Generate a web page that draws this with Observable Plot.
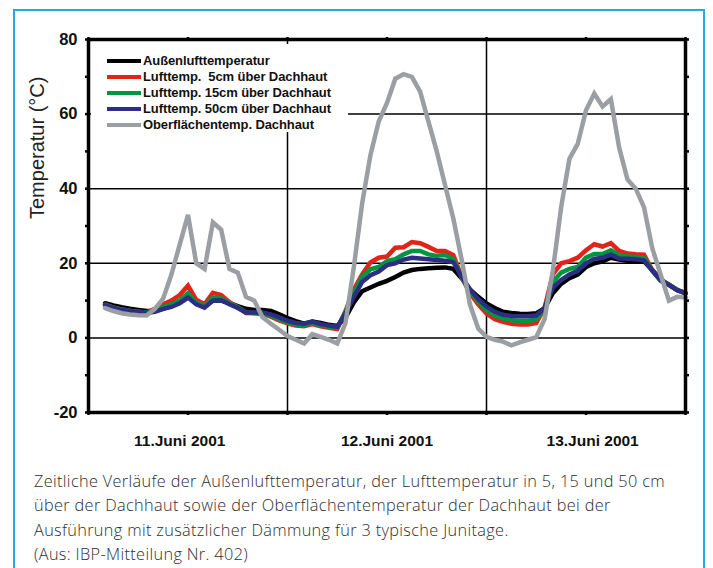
<!DOCTYPE html>
<html><head><meta charset="utf-8">
<script src="https://cdn.jsdelivr.net/npm/d3@7"></script>
<script src="https://cdn.jsdelivr.net/npm/@observablehq/plot@0.6"></script>
<style>
html,body{margin:0;padding:0;background:#fff;}
#wrap{position:relative;width:713px;height:568px;overflow:hidden;background:#fff;font-family:"Liberation Sans",Arial,sans-serif;}
#border{position:absolute;left:13px;top:9px;width:692px;height:640px;border:2px solid #29a9e1;box-sizing:border-box;}
#chart{position:absolute;left:0;top:0;}
#legend{position:absolute;left:91px;top:44px;width:257px;height:88px;background:#fff;padding-top:9px;box-sizing:border-box;}
.row{height:16px;line-height:16px;font-size:13px;font-weight:bold;color:#111;white-space:pre;letter-spacing:-0.1px;}
.sw{display:inline-block;width:34px;height:4px;vertical-align:middle;margin-left:16px;margin-right:2px;position:relative;top:-1px;}
#caption{position:absolute;left:34px;top:469px;width:675px;font-family:"Open Sans",Lato,sans-serif;font-weight:300;font-size:16.3px;letter-spacing:0.35px;line-height:24.3px;color:#2e2e2e;white-space:nowrap;}
</style></head>
<body>
<div id="wrap">
  <div id="border"></div>
  <div id="chart"></div>
  <div id="legend"></div>
  <div id="caption">Zeitliche Verläufe der Außenlufttemperatur, der Lufttemperatur in 5, 15 und 50 cm<br>über der Dachhaut sowie der Oberflächentemperatur der Dachhaut bei der<br>Ausführung mit zusätzlicher Dämmung für 3 typische Junitage.<br>(Aus: IBP-Mitteilung Nr. 402)</div>
</div>
<script>
// hours since 11 June 2001, 00:00
const hours = [2,3,4,5,6,7,8,9,10,11,12,13,14,15,16,17,18,19,20,21,22,23,24,25,26,27,28,29,30,31,32,33,34,35,36,37,38,39,40,41,42,43,44,45,46,47,48,49,50,51,52,53,54,55,56,57,58,59,60,61,62,63,64,65,66,67,68,69,70,71,72];

const aussen = [9.3,8.7,8.2,7.8,7.5,7.2,7.2,7.8,8.5,9.5,11,9.5,8.5,10,10,9.3,8.5,7.8,7.5,7.5,7.2,6.3,5.3,4.5,3.8,4.4,4.0,3.5,3.2,5.5,9.5,12.5,13.5,14.5,15.3,16.3,17.5,18.2,18.5,18.7,18.8,18.9,18.5,16,13,11,9.2,8.0,7.0,6.7,6.5,6.4,6.6,8,12,14.5,16,17,19,20,20.5,21.5,21,20.7,20.6,20.5,18.2,15.7,14.2,12.8,12];
const luft5 = [8.9,8.1,7.6,7.2,7.0,6.8,7.8,9.0,10.0,11.5,14.0,10.2,9.0,12.1,11.5,9.6,8.2,6.7,6.6,6.4,5.7,4.7,3.9,3.3,3.1,3.7,3.1,2.7,2.4,7.2,13,17,20.2,21.5,21.8,24.2,24.3,25.7,25.4,24.4,23.3,23.3,22.2,16.3,12,9.0,6.5,5.0,4.3,3.8,3.6,3.6,4.0,8,17,20,20.6,21.5,23.5,25.1,24.5,25.4,23.3,22.6,22.4,22.3,18.2,15.4,14.3,12.9,11.9];
const luft15 = [8.9,8.1,7.6,7.3,7.0,6.8,7.3,8.3,9.0,10.0,12.0,9.5,8.6,10.8,10.6,9.3,8.2,6.9,6.7,6.6,6.0,5.0,4.2,3.6,3.4,4.0,3.4,3.0,2.7,7.0,12,16.5,18.4,19.0,20.6,21.1,22.4,23.3,23.3,22.4,22.0,22.2,21.1,16.3,12.5,9.8,7.4,6.0,5.2,4.7,4.6,4.6,4.9,8,15,17.5,18.5,19,21.5,22.5,22.5,23.5,22.2,21.8,21.7,21.5,18.0,15.3,14.3,12.9,11.9];
const luft50 = [8.8,8.0,7.5,7.2,7.0,6.7,7.0,7.8,8.3,9.3,10.8,9.0,8.1,10.0,10.1,9.0,8.0,6.8,6.8,6.8,6.3,5.5,4.6,4.0,3.8,4.4,3.7,3.3,3.0,6.5,11,15,16.8,17.8,19.5,20.0,21.0,21.5,21.3,21.1,20.9,20.7,20.3,16.5,13,10.4,8.4,7.0,6.2,5.9,5.8,5.8,6.0,8,13.5,15.5,17,18,20,21.2,21.5,22.3,21.3,21.2,21.1,20.8,18.0,15.5,14.2,12.8,12];
const oberflaeche = [8.0,7.2,6.6,6.3,6.1,6.0,7.8,10.5,17,25,33,20,18.5,31,29,18.5,17.5,11,10,5.5,3.8,2.2,0.5,-0.5,-1.5,1.0,0.3,-0.5,-1.5,4,19,36,49,58,63,69.5,70.7,70,66,58,50,41,32,21,9,2.5,0.3,-0.5,-1,-2,-1.2,-0.5,0.2,5,18,35,48,52,61,65.5,62,64,51,42.5,40,35,24,17,10,11,10.8];

const seriesNames = ["Außenlufttemperatur","Lufttemp.  5cm über Dachhaut","Lufttemp. 15cm über Dachhaut","Lufttemp. 50cm über Dachhaut","Oberflächentemp. Dachhaut"];
const seriesColors = ["#000000","#e2231a","#00963f","#2d2e83","#9b9ea2"];
const seriesValues = [aussen, luft5, luft15, luft50, oberflaeche];

const yTickLabels = [80,60,40,20,0,-20];
const yMinorTicks = [-20,-10,0,10,20,30,40,50,60,70,80];
const xMinorTicks = [0,12,24,36,48,60,72];
const dayBreaks = [24,48];
const dayLabelPos = [11,36,60.8];
const dayLabels = ["11.Juni 2001","12.Juni 2001","13.Juni 2001"];

const tables = seriesValues.map((vals,i)=>vals.map((v,j)=>({h:hours[j],t:v,s:seriesNames[i]})));

const font = "Liberation Sans, Arial, sans-serif";
const chart = Plot.plot({
  width:713, height:462,
  marginLeft:88, marginRight:28, marginTop:39, marginBottom:50,
  style:{fontFamily:font, background:"transparent", overflow:"visible"},
  x:{domain:[0,72]},
  y:{domain:[-20,80]},
  marks:[
    Plot.gridY([0,20,40,60],{stroke:"#000",strokeOpacity:1,strokeWidth:1.5}),
    Plot.gridX(dayBreaks,{stroke:"#000",strokeOpacity:1,strokeWidth:1.5}),
    ...tables.map((tb,i)=>Plot.line(tb,{x:"h",y:"t",stroke:seriesColors[i],strokeWidth:4.5,strokeLinejoin:"miter",strokeMiterlimit:3})),
    Plot.frame({stroke:"#000",strokeWidth:3.5}),
    Plot.axisY(yMinorTicks,{anchor:"left",tickSize:3,tickFormat:()=>"" ,strokeWidth:2.5,label:null}),
    Plot.axisY(yMinorTicks,{anchor:"right",tickSize:3,tickFormat:()=>"",strokeWidth:2.5,label:null}),
    Plot.axisX(xMinorTicks,{anchor:"top",tickSize:3,tickFormat:()=>"",strokeWidth:2.5,label:null}),
    Plot.axisX(xMinorTicks,{anchor:"bottom",tickSize:3,tickFormat:()=>"",strokeWidth:2.5,label:null}),
    Plot.axisY(yTickLabels,{anchor:"left",tickSize:0,tickPadding:11,fontSize:16.5,fontWeight:"bold",label:null,fill:"#111",tickFormat:d=>String(d)}),
    Plot.axisX(dayLabelPos,{anchor:"bottom",tickSize:0,tickPadding:22,fontSize:15.5,fontWeight:"bold",label:null,fill:"#111",tickFormat:d=>dayLabels[dayLabelPos.indexOf(d)]}),
    Plot.text(["Temperatur (°C)"],{frameAnchor:"left",rotate:-90,dx:-51,dy:-7,fontSize:20,fill:"#222",fontFamily:font})
  ]
});
document.getElementById("chart").appendChild(chart);

const lg = document.getElementById("legend");
seriesNames.forEach((n,i)=>{
  const r = document.createElement("div"); r.className="row";
  const s = document.createElement("span"); s.className="sw"; s.style.background=seriesColors[i];
  r.appendChild(s);
  r.appendChild(document.createTextNode(n));
  lg.appendChild(r);
});
</script>
</body></html>
